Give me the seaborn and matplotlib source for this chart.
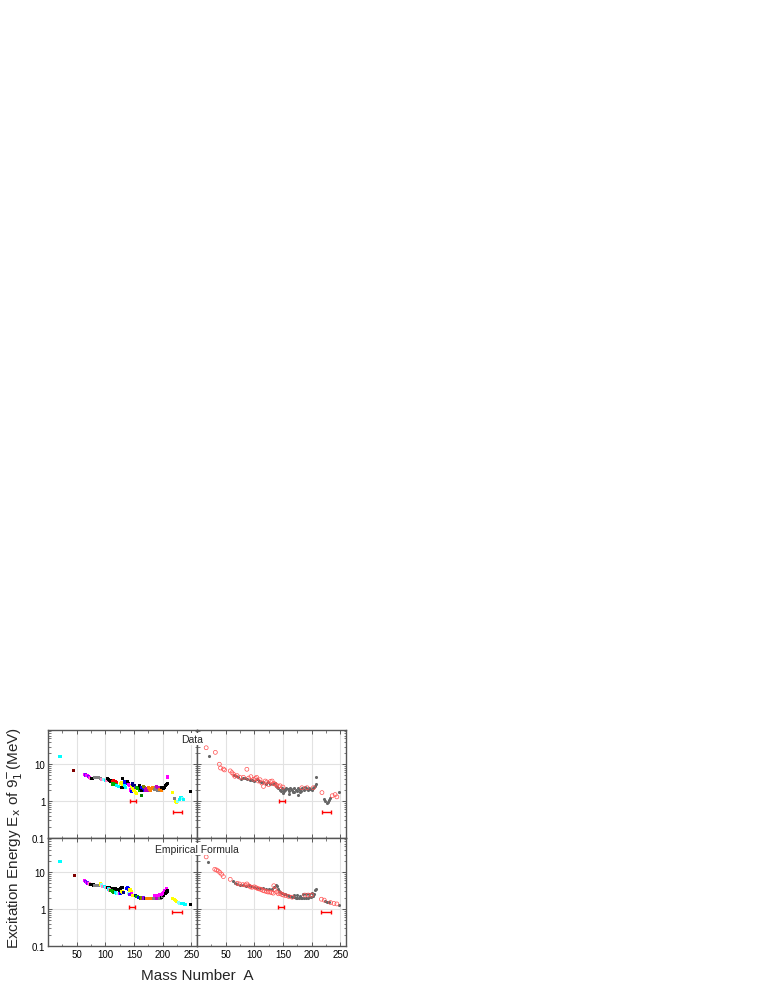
import numpy as np
import pandas as pd
import matplotlib.pyplot as plt
from matplotlib.ticker import LogLocator, NullFormatter, MultipleLocator, FixedFormatter, FixedLocator
import seaborn as sns

sns.set_style("ticks")
plt.rcParams["font.family"] = ["Liberation Sans", "DejaVu Sans"]

# ── DATA ─────────────────────────────────────────────────────
# top-left: measured, coloured by isotopic chain
data_A = [21, 45, 64, 66, 68, 70, 72, 74, 76, 78, 82, 85, 88, 91, 94, 97, 100, 102,
          104, 106, 108, 110, 112, 114, 116, 118, 120, 112, 115, 118, 120, 123, 128,
          126, 128, 130, 130, 131, 133, 135, 133, 136, 138, 140, 141, 143, 145, 144,
          145, 146, 148, 150, 152, 154, 147, 150, 152, 155, 157, 159, 161, 160, 162,
          164, 163, 164, 166, 168, 167, 169, 171, 170, 172, 174, 175, 177, 179, 181,
          183, 185, 186, 188, 190, 192, 189, 192, 194, 196, 195, 198, 199, 201, 203,
          205, 207, 209, 208, 218, 220, 222, 224, 226, 229, 232, 235, 237, 248]
data_E = [16.5, 6.6, 5.4, 5.1, 4.9, 4.6, 4.4, 4.2, 4.0, 4.1, 4.4, 4.3, 4.4, 4.2, 3.9, 3.8, 3.7, 3.6,
          4.2, 3.9, 3.7, 3.5, 3.4, 3.6, 3.3, 3.4, 3.2, 2.9, 3.0, 2.8, 2.7, 2.5, 2.4,
          3.0, 3.1, 2.9, 4.2, 2.4, 3.3, 3.1, 2.6, 2.3, 3.4, 3.0, 2.8, 2.6, 2.3, 2.0,
          1.8, 2.5, 2.2, 2.0, 1.7, 1.6, 2.9, 2.6, 2.3, 2.4, 2.2, 2.0, 2.3, 2.6, 2.2,
          2.0, 1.45, 2.4, 2.2, 2.0, 2.5, 2.3, 2.1, 2.0, 2.2, 1.9, 2.3, 2.1, 2.0, 2.2,
          2.4, 2.3, 2.1, 2.4, 2.2, 2.0, 2.5, 2.4, 2.3, 2.2, 2.1, 2.0, 2.3, 2.2, 2.4,
          2.6, 2.8, 3.0, 4.5, 1.75, 1.15, 1.0, 0.9, 0.95, 1.1, 1.25, 1.15, 1.1, 1.85]
data_chain = [4, 7, 5, 8, 5, 8, 5, 11, 0, 0, 9, 9, 9, 9, 11, 12, 4, 11,
              0, 0, 0, 0, 1, 1, 1, 1, 1, 2, 2, 2, 4, 4, 0,
              6, 6, 6, 0, 0, 3, 3, 4, 4, 0, 0, 5, 5, 5, 5,
              3, 6, 6, 6, 6, 6, 13, 13, 8, 2, 2, 2, 15, 0, 0,
              0, 15, 3, 3, 3, 14, 14, 14, 16, 16, 16, 10, 10, 10, 10,
              10, 10, 9, 9, 9, 9, 16, 16, 16, 16, 10, 10, 0, 0, 0,
              0, 0, 0, 5, 6, 9, 6, 6, 12, 4, 4, 12, 4, 0]

# bottom-left: empirical formula, same colouring
fit_A = [21, 47, 63, 65, 67, 69, 71, 73, 75, 77, 79, 81, 84, 87, 90,
         92, 94, 96, 98, 100, 102, 104, 106, 108, 110, 112, 114, 116, 118, 120,
         122, 124, 126, 128, 130, 106, 108, 110, 112, 114, 116, 118, 120, 122, 124,
         126, 128, 130, 132, 137, 139, 141, 143, 145, 144, 146, 148, 150, 140, 142,
         152, 154, 156, 158, 160, 162, 164, 166, 168, 170, 172, 174, 176, 178, 180,
         182, 184, 186, 188, 190, 192, 194, 196, 198, 200, 202, 186, 188, 190, 192,
         194, 196, 198, 200, 202, 204, 206, 207, 205, 207, 208, 218, 220, 222, 224,
         227, 230, 233, 236, 239, 248]
fit_E = [19, 8.1, 5.8, 5.5, 5.3, 5.1, 4.9, 4.8, 4.7, 4.6, 4.5, 4.4, 4.3, 4.3, 4.4,
         4.8, 4.5, 4.2, 4.0, 3.9, 3.8, 3.9, 3.8, 3.8, 3.7, 3.6, 3.6, 3.5, 3.5, 3.4,
         3.4, 3.3, 3.6, 3.8, 3.9, 3.5, 3.3, 3.2, 3.0, 2.9, 2.8, 2.8, 2.7, 2.6, 2.7,
         2.6, 3.0, 2.9, 2.8, 3.7, 3.8, 3.5, 3.3, 3.0, 2.7, 2.6, 2.4, 2.3, 2.6, 2.5,
         2.3, 2.2, 2.2, 2.1, 2.1, 2.0, 2.0, 2.0, 1.95, 1.9, 1.9, 1.9, 1.9, 1.9, 1.95,
         1.95, 1.95, 2.0, 2.0, 2.0, 2.0, 2.0, 2.0, 2.1, 2.2, 2.3, 2.3, 2.4, 2.4, 2.4,
         2.5, 2.5, 2.5, 2.6, 2.8, 3.1, 3.5, 3.7, 2.6, 2.9, 3.1, 1.9, 1.8, 1.7, 1.6,
         1.5, 1.45, 1.4, 1.38, 1.35, 1.3]
fit_chain = [4, 7, 5, 8, 5, 8, 5, 11, 0, 0, 0, 9, 9, 9, 9,
             6, 12, 11, 4, 12, 11, 0, 0, 0, 0, 0, 0, 0, 0, 0,
             0, 0, 0, 0, 0, 4, 11, 2, 2, 2, 15, 4, 4, 12, 5,
             3, 6, 6, 13, 3, 3, 3, 6, 6, 5, 5, 6, 6, 12, 8,
             13, 2, 2, 3, 3, 15, 14, 8, 16, 13, 10, 10, 10, 10, 10,
             10, 9, 9, 9, 16, 16, 9, 9, 0, 9, 0, 5, 5, 5, 5,
             5, 5, 5, 5, 5, 5, 5, 5, 0, 0, 0, 6, 6, 6, 6,
             12, 12, 4, 4, 4, 0]

chain_colors = ["black", "red", "#00b000", "blue", "cyan", "magenta", "#ffff00",
                "#800000", "#8000ff", "#808080", "#ff8000", "#ff80c0", "#80ffff",
                "#000080", "#808000", "#008000", "#c000c0"]

# top-right: measured, open circles vs grey dots
data_circ_A = [16, 32, 39, 41, 46, 48, 58, 61, 64, 66, 70, 75, 81, 87, 90, 94, 99, 102,
               104, 107, 110, 113, 116, 119, 122, 125, 128, 131, 134, 136, 139, 142,
               145, 150, 183, 192, 203, 218, 236, 241, 244]
data_circ_E = [28, 21, 10, 7.9, 7.4, 7.0, 6.6, 5.9, 5.3, 4.7, 4.9, 4.4, 4.4, 7.3, 4.2, 4.6, 3.9, 4.1,
               4.4, 3.5, 3.8, 3.1, 2.5, 3.5, 3.3, 2.8, 3.4, 3.5, 3.0, 2.9, 2.7, 2.5,
               2.6, 2.4, 2.3, 2.3, 2.3, 1.7, 1.4, 1.5, 1.3]
data_grey_A = [21, 65, 68, 72, 76, 80, 84, 88, 92, 96, 100, 104, 108, 112, 116, 120, 124,
               128, 132, 136, 138, 140, 142, 144, 146, 148, 150, 152, 154, 156, 158, 160,
               162, 164, 166, 168, 170, 172, 174, 176, 177, 178, 180, 182, 184, 186, 188,
               190, 192, 194, 196, 198, 200, 202, 204, 206, 208, 208, 150, 160, 170, 180,
               222, 224, 226, 228, 230, 232, 248]
data_grey_E = [16.5, 5.2, 4.8, 4.5, 4.1, 4.2, 4.3, 4.0, 3.8, 3.7, 3.6, 3.9, 3.4, 3.3, 3.2, 3.0, 3.2,
               3.0, 2.9, 3.1, 2.6, 2.4, 2.2, 2.0, 1.9, 2.3, 2.1, 1.9, 2.0, 2.2, 2.1, 1.9,
               2.3, 2.1, 2.0, 1.8, 2.2, 2.0, 1.9, 2.3, 1.45, 2.1, 2.0, 1.9, 2.2, 2.0, 2.4,
               2.2, 2.1, 2.0, 2.3, 2.1, 2.0, 2.2, 2.4, 2.6, 2.9, 4.4, 1.7, 1.6, 1.75, 1.8,
               1.15, 1.0, 0.9, 0.95, 1.05, 1.2, 1.8]

# bottom-right: empirical formula, open circles vs grey dots
fit_circ_A = [16, 31, 34, 37, 40, 43, 46, 58, 70, 74, 80, 84, 87, 90, 93, 96, 100, 103,
              106, 109, 112, 115, 118, 121, 124, 127, 130, 133, 134, 136, 139, 142, 145,
              148, 151, 155, 160, 166, 188, 194, 200, 217, 222, 233, 239, 244]
fit_circ_E = [26, 12, 11.5, 10.8, 9.8, 8.8, 7.6, 6.4, 5.0, 4.8, 4.6, 4.5, 4.8, 4.3, 4.0, 3.9, 4.0, 3.8,
              3.6, 3.5, 3.4, 3.2, 3.1, 3.0, 2.9, 2.9, 2.8, 2.7, 4.3, 3.3, 2.9, 2.6, 2.7,
              2.5, 2.4, 2.3, 2.2, 2.1, 2.4, 2.4, 2.4, 1.85, 1.75, 1.5, 1.42, 1.38]
fit_grey_A = [20, 62, 66, 70, 75, 80, 85, 90, 95, 100, 105, 110, 115, 120, 125, 130, 135,
              137, 139, 141, 143, 145, 148, 151, 154, 157, 160, 163, 166, 169, 172, 175,
              178, 181, 184, 187, 190, 193, 196, 199, 202, 204, 206, 207, 170, 175, 180,
              185, 190, 195, 200, 224, 227, 230, 248]
fit_grey_E = [19, 5.6, 5.2, 4.8, 4.6, 4.4, 4.3, 4.6, 4.2, 3.9, 3.7, 3.8, 3.7, 3.6, 3.5, 3.6, 3.9,
              4.5, 4.2, 3.4, 3.1, 2.9, 2.8, 2.6, 2.5, 2.4, 2.3, 2.2, 2.15, 2.1, 2.0, 2.0,
              1.95, 1.95, 1.95, 2.0, 2.0, 2.05, 2.1, 2.15, 2.2, 2.6, 3.2, 3.6, 2.4, 2.35, 2.3,
              2.5, 2.5, 2.6, 2.7, 1.7, 1.6, 1.55, 1.3]

# red horizontal bars
data_bar_A = [148, 226]
data_bar_E = [1.0, 0.5]
data_bar_w = [5, 8]
fit_bar_A = [147, 225]
fit_bar_E = [1.13, 0.83]
fit_bar_w = [5, 8]

x_ticks = [50, 100, 150, 200, 250]
y_ticks = [0.1, 1, 10]
y_labels = ["0.1", "1", "10"]

# ── FIGURE ───────────────────────────────────────────────────
fig = plt.figure(figsize=(7.63, 9.87), dpi=100)

W, H = 0.1953, 0.1094
ax_tl = fig.add_axes([0.0629, 0.1500, W, H])
ax_tr = fig.add_axes([0.0629 + W, 0.1500, W, H])
ax_bl = fig.add_axes([0.0629, 0.1500 - H, W, H])
ax_br = fig.add_axes([0.0629 + W, 0.1500 - H, W, H])

pal = {i: c for i, c in enumerate(chain_colors)}

def colour_panel(ax, A, E, chain):
    df = pd.DataFrame({"A": A, "E": E, "chain": chain})
    sns.scatterplot(data=df, x="A", y="E", hue="chain", palette=pal,
                    marker="s", s=5, linewidth=0, legend=False, ax=ax, zorder=3)

def split_panel(ax, cA, cE, gA, gE):
    dg = pd.DataFrame({"A": gA, "E": gE})
    sns.scatterplot(data=dg, x="A", y="E", color="#666666", marker="o",
                    s=5, linewidth=0, legend=False, ax=ax, zorder=3)
    dc = pd.DataFrame({"A": cA, "E": cE})
    sns.scatterplot(data=dc, x="A", y="E", marker="o", s=8,
                    facecolor="none", edgecolor="#ff5050", linewidth=0.5,
                    legend=False, ax=ax, zorder=4)

def bars(ax, A, E, w):
    ax.errorbar(A, E, xerr=w, fmt="none", ecolor="red", elinewidth=1.0,
                capsize=1.5, capthick=1.0, zorder=5)

colour_panel(ax_tl, data_A, data_E, data_chain)
colour_panel(ax_bl, fit_A, fit_E, fit_chain)
split_panel(ax_tr, data_circ_A, data_circ_E, data_grey_A, data_grey_E)
split_panel(ax_br, fit_circ_A, fit_circ_E, fit_grey_A, fit_grey_E)
bars(ax_tl, data_bar_A, data_bar_E, data_bar_w)
bars(ax_tr, data_bar_A, data_bar_E, data_bar_w)
bars(ax_bl, fit_bar_A, fit_bar_E, fit_bar_w)
bars(ax_br, fit_bar_A, fit_bar_E, fit_bar_w)

for ax in [ax_tl, ax_tr, ax_bl, ax_br]:
    ax.set_yscale("log")
    ax.set_xlim(0, 260)
    ax.set_ylim(0.1, 85)
    ax.set_xlabel("")
    ax.set_ylabel("")
    ax.xaxis.set_major_locator(FixedLocator(x_ticks))
    ax.xaxis.set_minor_locator(MultipleLocator(25))
    ax.yaxis.set_major_locator(FixedLocator(y_ticks))
    ax.yaxis.set_minor_locator(LogLocator(base=10, subs=np.arange(2, 10)))
    ax.yaxis.set_minor_formatter(NullFormatter())
    ax.grid(True, which="major", color="#e2e2e2", linewidth=0.8)
    ax.set_axisbelow(True)
    ax.tick_params(which="both", direction="in", top=True, right=True,
                   labelsize=7, colors="#444444", labelcolor="black", pad=2)
    ax.tick_params(which="major", length=3, width=0.6)
    ax.tick_params(which="minor", length=1.8, width=0.5)
    for sp in ax.spines.values():
        sp.set_color("#555555")
        sp.set_linewidth(1.0)

for ax in [ax_tl, ax_bl]:
    ax.yaxis.set_major_formatter(FixedFormatter(y_labels))
for ax in [ax_tr, ax_br]:
    ax.tick_params(axis="y", labelleft=False)
for ax in [ax_tl, ax_tr]:
    ax.tick_params(axis="x", labelbottom=False)

fig.text(0.2515, 1 - 740 / 987, "Data", fontsize=7.5, ha="center", va="center",
         bbox=dict(facecolor="white", edgecolor="none", pad=1.0), zorder=10)
fig.text(0.2582, 1 - 850 / 987, "Empirical Formula", fontsize=7.5, ha="center",
         va="center", bbox=dict(facecolor="white", edgecolor="none", pad=1.0), zorder=10)

fig.text(0.0197, 1 - 838 / 987, r"Excitation Energy E$_{\rm x}$ of 9$_1^{-}$(MeV)",
         fontsize=11, rotation=90, ha="center", va="center")
fig.text(0.2582, 1 - 976 / 987, "Mass Number  A", fontsize=11, ha="center", va="center")

plt.savefig("out.png", dpi=100)
